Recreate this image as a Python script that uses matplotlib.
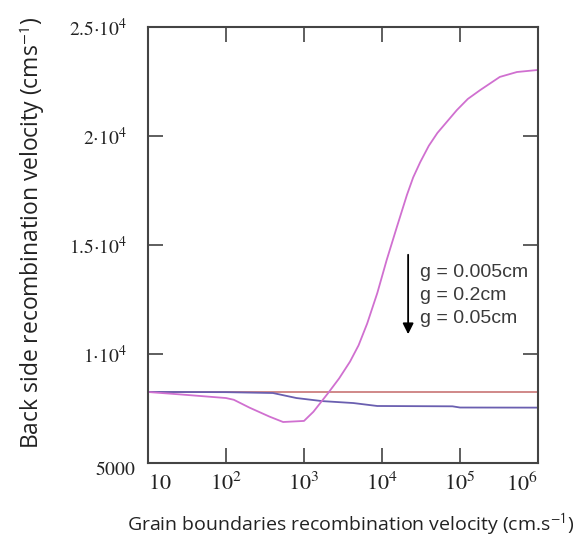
import numpy as np
import matplotlib
matplotlib.use("Agg")
import matplotlib.pyplot as plt
import matplotlib.transforms as mtransforms

plt.rcParams['mathtext.fontset'] = 'stix'
plt.rcParams['font.family'] = 'Liberation Sans'

# grain boundaries recombination velocity (cm/s) and back side recombination velocity (cm/s)
x_red = [10, 1000000]
y_red = [8270, 8270]

x_blue = [10, 100, 400, 800, 1700, 4300, 8700, 80000, 100000, 1000000]
y_blue = [8260, 8250, 8210, 7980, 7840, 7750, 7615, 7600, 7545, 7540]

x_mag = [10, 25, 100, 126, 200, 360, 540, 1000, 1320, 2040, 2820, 3890, 5010, 6460, 8710,
         11480, 15490, 20890, 25100, 30900, 39800, 51300, 91200, 126000, 182000, 324000,
         537000, 1000000]
y_mag = [8257, 8150, 7980, 7900, 7540, 7130, 6880, 6930, 7350, 8210, 8880, 9650, 10400, 11400, 12800,
         14310, 15820, 17300, 18100, 18800, 19550, 20140, 21190, 21700, 22110, 22710,
         22935, 23030]

xticks = [10, 100, 1000, 10000, 100000, 1000000]
xtick_labels = [r'$10$', r'$10^{2}$', r'$10^{3}$', r'$10^{4}$', r'$10^{5}$', r'$10^{6}$']
yticks = [5000, 10000, 15000, 20000, 25000]
ytick_labels = [r'$5000$', r'$1{\cdot}10^{4}$', r'$1.5{\cdot}10^{4}$', r'$2{\cdot}10^{4}$', r'$2.5{\cdot}10^{4}$']

g_labels = ['g = 0.005cm', 'g = 0.2cm', 'g = 0.05cm']

fig = plt.figure(figsize=(5.79, 5.43), dpi=100)
ax = fig.add_axes([148/579, 80/543, 390/579, 436/543])

ax.plot(x_red, y_red, color='#c87474', lw=1.2)
ax.plot(x_blue, y_blue, color='#6a5fb0', lw=1.3)
ax.plot(x_mag, y_mag, color='#d070d0', lw=1.3)

ax.set_xscale('log')
ax.set_xlim(10, 1e6)
ax.set_ylim(5000, 25000)
ax.set_xticks(xticks)
ax.set_xticklabels(xtick_labels, fontsize=16)
ax.set_yticks(yticks)
ax.set_yticklabels(ytick_labels, fontsize=14)
ax.minorticks_off()
ax.tick_params(direction='in', length=11, width=1.1, color='#333333',
               top=True, right=True, labelcolor='#222222')
ax.tick_params(axis='x', pad=7)
ax.tick_params(axis='y', pad=15)
for s in ax.spines.values():
    s.set_linewidth(1.5)
    s.set_color('#444444')

# end labels sit inside the axis range
xl = ax.get_xticklabels()
xl[0].set_ha('left')
xl[-1].set_ha('right')
yl = ax.get_yticklabels()
yl[0].set_transform(yl[0].get_transform() +
                    mtransforms.ScaledTranslation(8/100, -5/100, fig.dpi_scale_trans))

# arrow for the three grain sizes
ax.annotate('', xy=(0.667, 0.289), xytext=(0.667, 0.484), xycoords='axes fraction',
            arrowprops=dict(arrowstyle='-|>', color='black', lw=1.3, mutation_scale=16))
for i, lab in enumerate(g_labels):
    ax.text(0.697, 0.438 - i*0.053, lab, transform=ax.transAxes, fontsize=14,
            color='#3a3a3a', va='center', ha='left')

ax.set_xlabel(r'Grain boundaries recombination velocity (cm.s$^{\mathsf{-1}}$)',
              fontsize=14, family='Open Sans', color='#222222', va='center')
ax.xaxis.set_label_coords(0.52, -0.142)
ax.set_ylabel(r'Back side recombination velocity (cms$^{\mathsf{-1}}$)',
              fontsize=16.5, family='Open Sans', color='#222222', va='center')
ax.yaxis.set_label_coords(-0.297, 0.528)

fig.savefig('out.png', dpi=100)
